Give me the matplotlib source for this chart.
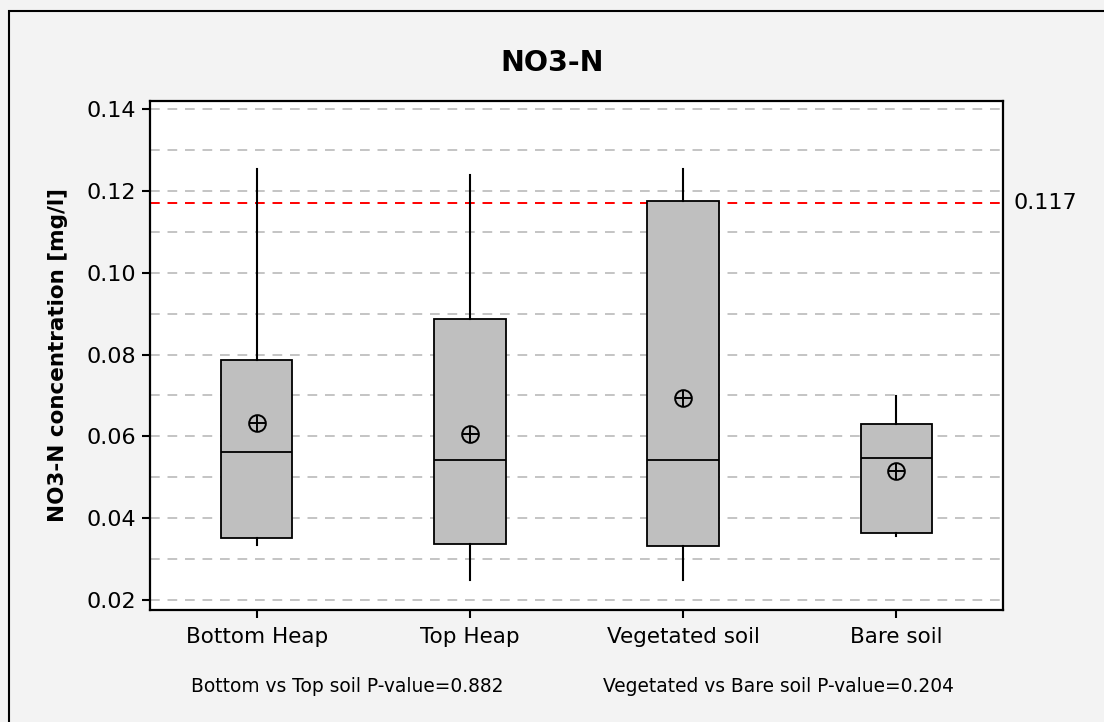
import matplotlib
matplotlib.use("Agg")
import matplotlib.pyplot as plt
from matplotlib.patches import Rectangle

# Summary statistics of NO3-N concentration (mg/l) per site group
categories = ["Bottom Heap", "Top Heap", "Vegetated soil", "Bare soil"]
whisker_low = [0.0334, 0.0249, 0.0249, 0.0356]
q1 = [0.0352, 0.0337, 0.0332, 0.0364]
median = [0.0562, 0.0543, 0.0543, 0.0547]
q3 = [0.0787, 0.0887, 0.1176, 0.0630]
whisker_high = [0.1254, 0.1239, 0.1254, 0.0699]
mean = [0.0633, 0.0606, 0.0694, 0.0515]

reference_level = 0.117
y_ticks = [0.02, 0.04, 0.06, 0.08, 0.10, 0.12, 0.14]
grid_levels = [0.02, 0.03, 0.04, 0.05, 0.06, 0.07, 0.08, 0.09, 0.10,
               0.11, 0.12, 0.13, 0.14]
p_notes = ["Bottom vs Top soil P-value=0.882",
           "Vegetated vs Bare soil P-value=0.204"]

plt.rcParams["font.family"] = ["DejaVu Sans"]

fig = plt.figure(figsize=(11.04, 7.22), dpi=100)
fig.patch.set_facecolor("#f3f3f3")

# outer frame of the graph region
W, H = 1104, 722
fig.patches.append(Rectangle((9 / W, -0.05), 1.1, 1 + 0.05 - 11 / H,
                             transform=fig.transFigure, fill=False,
                             edgecolor="black", linewidth=1.5, zorder=0))

ax = fig.add_axes([150 / W, 1 - 610 / H, (1003 - 150) / W, (610 - 101) / H])
ax.set_facecolor("white")

positions = list(range(1, len(categories) + 1))
stats = []
for i, name in enumerate(categories):
    stats.append(dict(label=name, whislo=whisker_low[i], q1=q1[i],
                      med=median[i], q3=q3[i], whishi=whisker_high[i],
                      mean=mean[i], fliers=[]))

ax.bxp(stats, positions=positions, widths=0.335, patch_artist=True,
       showmeans=False, showcaps=False, showfliers=False,
       boxprops=dict(facecolor="#bfbfbf", edgecolor="black", linewidth=1.3),
       whiskerprops=dict(color="black", linewidth=1.5),
       medianprops=dict(color="black", linewidth=1.3),
       zorder=3)

# mean symbols: circle with a cross
ax.plot(positions, mean, linestyle="none", marker="o", markersize=12,
        markerfacecolor="none", markeredgecolor="black",
        markeredgewidth=1.4, zorder=5)
ax.plot(positions, mean, linestyle="none", marker="+", markersize=12,
        markeredgecolor="black", markeredgewidth=1.4, zorder=5)

for g in grid_levels:
    ax.axhline(g, color="#c4c4c4", linewidth=1.4, dashes=(5, 4), zorder=1)

ax.axhline(reference_level, color="red", linewidth=1.4, dashes=(5, 4),
           zorder=2)
ax.text(1.012, reference_level, f"{reference_level:.3f}",
        transform=ax.get_yaxis_transform(), ha="left", va="center",
        fontsize=16)

ax.set_xlim(0.5, 4.5)
ax.set_ylim(0.01756, 0.14196)
ax.set_yticks(y_ticks)
ax.set_yticklabels([f"{t:.2f}" for t in y_ticks])
ax.set_xticks(positions)
ax.set_xticklabels(categories)
ax.tick_params(axis="both", direction="out", length=6, width=1.5, pad=4)
ax.tick_params(axis="y", labelsize=16)
ax.tick_params(axis="x", labelsize=15.5, pad=6)
for s in ax.spines.values():
    s.set_linewidth(1.6)
    s.set_zorder(6)

fig.text(58 / W, 1 - 355 / H, "NO3-N concentration [mg/l]", rotation=90,
         ha="center", va="center", fontsize=15.5, fontweight="bold")

fig.text(0.5, 1 - 63 / H, "NO3-N", ha="center", va="center",
         fontsize=20.5, fontweight="bold")

fig.text(347 / W, 1 - 686 / H, p_notes[0], ha="center", va="center",
         fontsize=13.4)
fig.text(778 / W, 1 - 686 / H, p_notes[1], ha="center", va="center",
         fontsize=13.4)

fig.savefig("out.png", dpi=100, facecolor=fig.get_facecolor())
